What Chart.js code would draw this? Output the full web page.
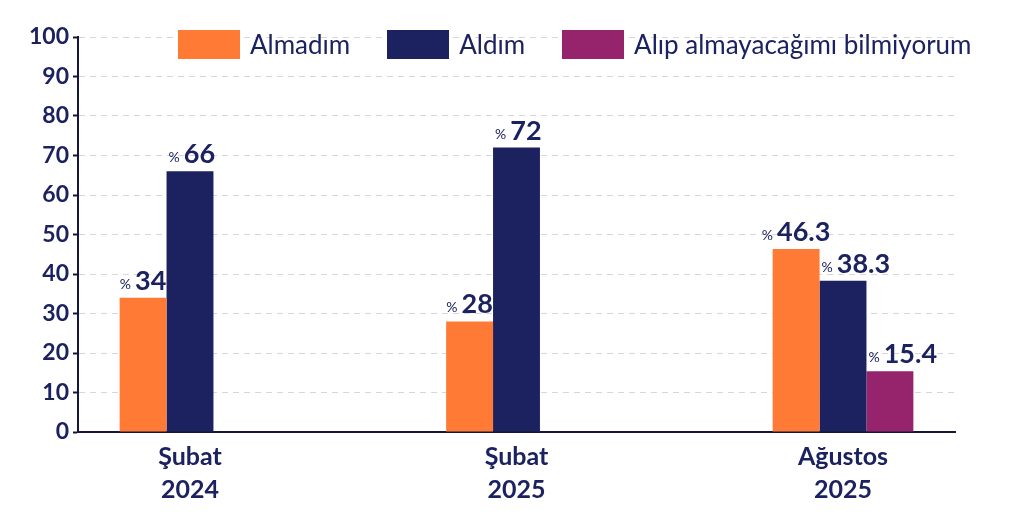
<!DOCTYPE html>
<html>
<head>
<meta charset="utf-8">
<script src="https://cdn.jsdelivr.net/npm/chart.js@4.4.0/dist/chart.umd.min.js"></script>
<style>
  html, body { margin: 0; padding: 0; background: #fff; }
  #wrap { position: relative; width: 1024px; height: 512px; }
  #legend { position: absolute; left: 178px; top: 28px; display: flex; align-items: center;
            font-family: Lato, "Open Sans", sans-serif; font-size: 26px; color: #1c2260; }
  #legend .item { display: flex; align-items: center; margin-right: 37px; }
  #legend .box { width: 62px; height: 29px; margin-right: 10px; }
</style>
</head>
<body>
<div id="wrap">
  <canvas id="chart" width="1024" height="512"></canvas>
  <div id="legend"></div>
</div>
<script>
var navy = '#1c2260';

// categories (two lines each)
var periods = [['Şubat', '2024'], ['Şubat', '2025'], ['Ağustos', '2025']];
var seriesNames = ['Almadım', 'Aldım', 'Alıp almayacağımı bilmiyorum'];
var almadim = [34, 28, 46.3];
var aldim = [66, 72, 38.3];
var bilmiyorum = [null, null, 15.4];
var yTicks = [0, 10, 20, 30, 40, 50, 60, 70, 80, 90, 100];
var colors = ['#ff7a35', '#1c2260', '#96246c'];

function points(arr){
  return arr.map((v, i) => ({ x: i, y: v }));
}

// "% 34" style labels above each bar
const valueLabels = {
  id: 'valueLabels',
  afterDatasetsDraw(chart){
    const ctx = chart.ctx;
    ctx.save();
    ctx.fillStyle = navy;
    ctx.textBaseline = 'alphabetic';
    ctx.textAlign = 'left';
    chart.data.datasets.forEach((ds, di) => {
      const meta = chart.getDatasetMeta(di);
      meta.data.forEach((bar, i) => {
        const v = ds.data[i].y;
        if (v === null || v === undefined) return;
        const num = String(v);
        ctx.font = '14px Lato, sans-serif';
        const pw = ctx.measureText('%').width;
        ctx.font = 'bold 27px Lato, sans-serif';
        const nw = ctx.measureText(num).width;
        const gap = 4;
        let x = bar.x - (pw + gap + nw) / 2;
        // keep off the taller neighbour on the left
        if (di > 0) x = Math.max(x, bar.x - bar.width / 2 + 2);
        const y = bar.y - 8;
        ctx.font = '14px Lato, sans-serif';
        ctx.fillText('%', x, y - 1);
        ctx.font = 'bold 27px Lato, sans-serif';
        ctx.fillText(num, x + pw + gap, y);
      });
    });
    ctx.restore();
  }
};

const htmlLegend = {
  id: 'htmlLegend',
  afterUpdate(chart){
    const box = document.getElementById('legend');
    box.innerHTML = '';
    const items = chart.options.plugins.legend.labels.generateLabels(chart);
    items.forEach(it => {
      const d = document.createElement('div');
      d.className = 'item';
      const sw = document.createElement('span');
      sw.className = 'box';
      sw.style.background = it.fillStyle;
      const t = document.createElement('span');
      t.textContent = it.text;
      d.appendChild(sw);
      d.appendChild(t);
      box.appendChild(d);
    });
  }
};

new Chart(document.getElementById('chart'), {
  type: 'bar',
  data: {
    datasets: [
      { label: seriesNames[0], data: points(almadim), backgroundColor: colors[0] },
      { label: seriesNames[1], data: points(aldim), backgroundColor: colors[1] },
      { label: seriesNames[2], data: points(bilmiyorum), backgroundColor: colors[2] }
    ]
  },
  options: {
    responsive: false,
    animation: false,
    devicePixelRatio: 1,
    layout: { padding: { top: 37, right: 69, left: 0, bottom: 0 } },
    datasets: { bar: { barPercentage: 1, categoryPercentage: 0.431 } },
    plugins: {
      legend: { display: false },
      tooltip: { enabled: false }
    },
    scales: {
      x: {
        type: 'linear',
        offset: false,
        min: -0.343,
        max: 2.343,
        afterBuildTicks: s => { s.ticks = periods.map((p, i) => ({ value: i })); },
        afterFit: s => { s.height = 80; },
        grid: { display: false, offset: false },
        border: { display: true, color: '#15163a', width: 2 },
        ticks: {
          autoSkip: false,
          maxRotation: 0,
          padding: 1,
          color: navy,
          font: { family: 'Lato, sans-serif', size: 25, weight: 'bold', lineHeight: 1.3 },
          callback: v => periods[v]
        }
      },
      y: {
        min: 0,
        max: 100,
        afterBuildTicks: s => { s.ticks = yTicks.map(v => ({ value: v })); },
        afterFit: s => { s.width = 78; },
        grid: {
          color: '#d6d6e2',
          lineWidth: 1,
          tickColor: '#15163a',
          tickLength: 5,
          tickWidth: 2,
          tickBorderDash: []
        },
        border: { display: true, color: '#15163a', width: 2, dash: [6, 5] },
        ticks: {
          padding: 4,
          color: navy,
          font: { family: 'Lato, sans-serif', size: 23, weight: 'bold' }
        }
      }
    }
  },
  plugins: [valueLabels, htmlLegend]
});
</script>
</body>
</html>
